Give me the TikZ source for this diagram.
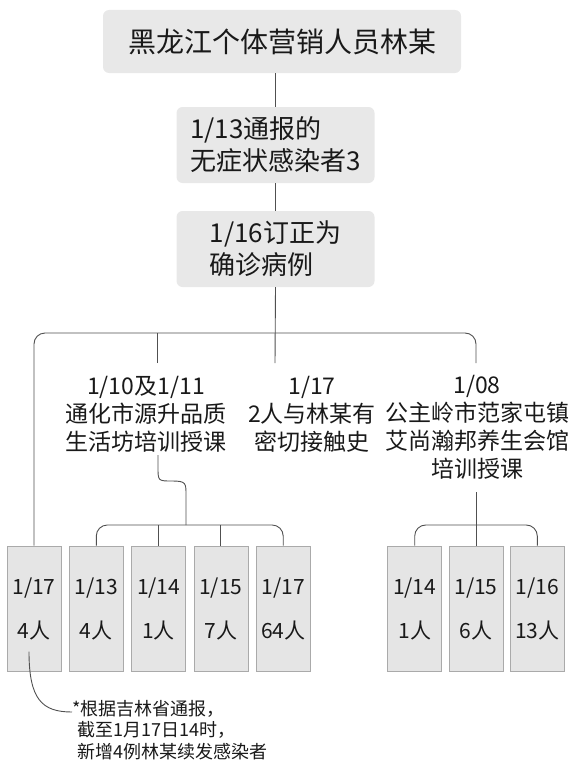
\documentclass[tikz,border=0pt]{standalone}
\usepackage{fontspec}
\setmainfont{Noto Sans CJK SC}
\usetikzlibrary{positioning}
\definecolor{boxgrey}{RGB}{232,232,232}
\definecolor{daygrey}{RGB}{229,229,229}
\definecolor{dayedge}{RGB}{170,170,170}
\definecolor{linkgrey}{RGB}{80,80,80}
\definecolor{inkblack}{RGB}{25,25,25}

\begin{document}
\begin{tikzpicture}[x=1pt, y=-1pt,
  topbox/.style={fill=boxgrey, rounded corners=6pt, inner sep=0pt, text=inkblack,
                 minimum width=358pt, minimum height=63pt, font=\fontsize{28}{34}\selectfont},
  infobox/.style={fill=boxgrey, rounded corners=6pt, inner sep=0pt, text=inkblack, align=left,
                  minimum width=198pt, minimum height=76pt, font=\fontsize{26}{32}\selectfont},
  grouptext/.style={align=center, inner sep=0pt, text=inkblack, font=\fontsize{23}{28}\selectfont},
  daybox/.style={draw=dayedge, fill=daygrey, line width=0.8pt, inner sep=0pt, text=inkblack,
                 align=center, minimum width=54pt, minimum height=125pt,
                 font=\fontsize{21}{44}\selectfont},
  notetext/.style={anchor=north west, align=left, inner sep=0pt, text=inkblack,
                   font=\fontsize{18}{21.5}\selectfont},
  link/.style={draw=linkgrey, line width=0.9pt},
  node distance=7.5pt
]
\useasboundingbox (0,0) rectangle (578,768);

\node[topbox] (linmou) at (282,41.5) {黑龙江个体营销人员林某};
\node[infobox] (report) at (275.5,145) {1/13通报的\\无症状感染者3};
\node[infobox] (revised) at (275.5,249) {1/16订正为\\确诊病例};

\node[grouptext] (tonghua) at (146,414.5) {1/10及1/11\\通化市源升品质\\生活坊培训授课};
\node[grouptext] (contact) at (312,414.5) {1/17\\2人与林某有\\密切接触史};
\node[grouptext] (gongzhuling) at (477,427.5)
  {1/08\\公主岭市范家屯镇\\艾尚瀚邦养生会馆\\培训授课};

\node[daybox] (d17) at (34,608.5) {1/17\\4人};
\node[daybox, right=of d17] (th13) {1/13\\4人};
\node[daybox, right=of th13] (th14) {1/14\\1人};
\node[daybox, right=of th14] (th15) {1/15\\7人};
\node[daybox, right=of th15] (th17) {1/17\\64人};

\node[daybox] (gz15) at (476,608.5) {1/15\\6人};
\node[daybox, left=6.5pt of gz15] (gz14) {1/14\\1人};
\node[daybox, right=6.5pt of gz15] (gz16) {1/16\\13人};

\node[notetext] (note) at (72,700)
  {*根据吉林省通报，\\\hspace*{5pt}截至1月17日14时，\\\hspace*{5pt}新增4例林某续发感染者};

\coordinate (mainbar) at (275,333);
\coordinate (tonghuatop) at (157,363);
\coordinate (contacttop) at (275,363);
\coordinate (gongzhulingtop) at (476,363);
\coordinate (tonghuabot) at (158,455);
\coordinate (tonghuabar) at (186,525);
\coordinate (gongzhulingbot) at (476,492);

\draw[link] (report.north |- linmou.south) -- (report.north);
\draw[link] (report.south) -- (revised.north);
\draw[link] (revised.south) -- (contacttop);
\draw[link, rounded corners=11pt] (d17.north) |- (mainbar) -| (gongzhulingtop);
\draw[link] (tonghuatop) -- (tonghuatop |- mainbar);

\draw[link] (tonghuabot) -- ++(0,12) .. controls +(0,14) and +(-14,0) .. ++(14,14)
  .. controls +(14,0) and +(0,-12) .. ++(14,14) -- (tonghuabar);
\draw[link, rounded corners=11pt] (th13.north) |- (tonghuabar) -| (th17.north);
\draw[link] (th14.north) -- (th14.north |- tonghuabar);
\draw[link] (th15.north) -- (th15.north |- tonghuabar);

\draw[link] (gongzhulingbot) -- (gz15.north);
\draw[link, rounded corners=11pt] (gz14.north) |- (gongzhulingbot |- tonghuabar) -| (gz16.north);

\draw[link] ([xshift=-5pt,yshift=-43pt]d17.center) .. controls +(0,48) and +(-30,0)
  .. ([yshift=-12pt]note.north west);
\end{tikzpicture}
\end{document}
